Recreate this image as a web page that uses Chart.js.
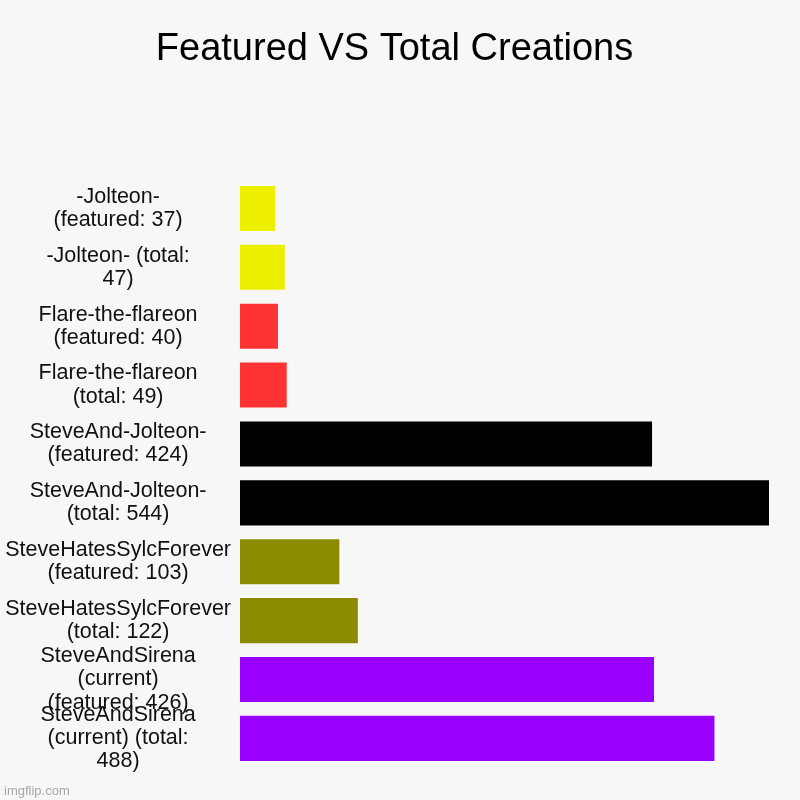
<!DOCTYPE html>
<html>
<head>
<meta charset="utf-8">
<script src="https://cdn.jsdelivr.net/npm/chart.js@4"></script>
<style>
  html, body { margin: 0; padding: 0; background: #f7f7f7; }
  #wrap { width: 800px; height: 800px; }
</style>
</head>
<body>
<div id="wrap"><canvas id="chart" width="800" height="800"></canvas></div>
<script>
const chartTitle = 'Featured VS Total Creations'
// labels as they wrap in the picture
const categories = [
  ['-Jolteon-', '(featured: 37)'],
  ['-Jolteon- (total:', '47)'],
  ['Flare-the-flareon', '(featured: 40)'],
  ['Flare-the-flareon', '(total: 49)'],
  ['SteveAnd-Jolteon-', '(featured: 424)'],
  ['SteveAnd-Jolteon-', '(total: 544)'],
  ['SteveHatesSylcForever', '(featured: 103)'],
  ['SteveHatesSylcForever', '(total: 122)'],
  ['SteveAndSirena', '(current)', '(featured: 426)'],
  ['SteveAndSirena', '(current) (total:', '488)']
]
const values = [37, 47, 40, 49, 424, 544, 103, 122, 426, 488]
const barColors = ['#eeee00', '#eeee00', '#ff3333', '#ff3333', '#000000', '#000000', '#8b8b00', '#8b8b00', '#9900ff', '#9900ff']

const FONT = '"Liberation Sans", Arial, sans-serif'

// background, title (centred on the whole image) and watermark
const decoPlugin = {
  id: 'deco',
  beforeDraw(chart) {
    const ctx = chart.ctx
    ctx.save()
    ctx.fillStyle = '#f7f7f7'
    ctx.fillRect(0, 0, chart.width, chart.height)
    ctx.restore()
  },
  afterDraw(chart) {
    const ctx = chart.ctx
    ctx.save()
    ctx.fillStyle = '#000'
    ctx.font = '38px ' + FONT
    ctx.textAlign = 'center'
    ctx.textBaseline = 'middle'
    ctx.fillText(chartTitle, 394.5, 50)
    ctx.fillStyle = '#a8a8a8'
    ctx.font = '13px ' + FONT
    ctx.textAlign = 'left'
    ctx.textBaseline = 'alphabetic'
    ctx.fillText('imgflip.com', 4, 795)
    ctx.restore()
  }
}

new Chart(document.getElementById('chart'), {
  type: 'bar',
  data: {
    labels: categories,
    datasets: [{
      data: values,
      backgroundColor: barColors,
      borderColor: 'rgba(255,255,255,0.5)',
      borderWidth: 1,
      barPercentage: 0.8,
      categoryPercentage: 1
    }]
  },
  options: {
    indexAxis: 'y',
    responsive: false,
    animation: false,
    layout: { padding: { top: 179, right: 30, bottom: 29, left: 0 } },
    plugins: {
      legend: { display: false },
      tooltip: { enabled: false },
      title: { display: false }
    },
    scales: {
      x: {
        display: false,
        min: 0,
        max: Math.max(...values)
      },
      y: {
        grid: { display: false, drawTicks: false },
        border: { display: false },
        afterFit(scale) { scale.width = 240 },
        ticks: {
          autoSkip: false,
          crossAlign: 'center',
          padding: 9,
          color: '#111',
          font: { family: FONT, size: 21.5, lineHeight: 1.08 }
        }
      }
    }
  },
  plugins: [decoPlugin]
})
</script>
</body>
</html>
